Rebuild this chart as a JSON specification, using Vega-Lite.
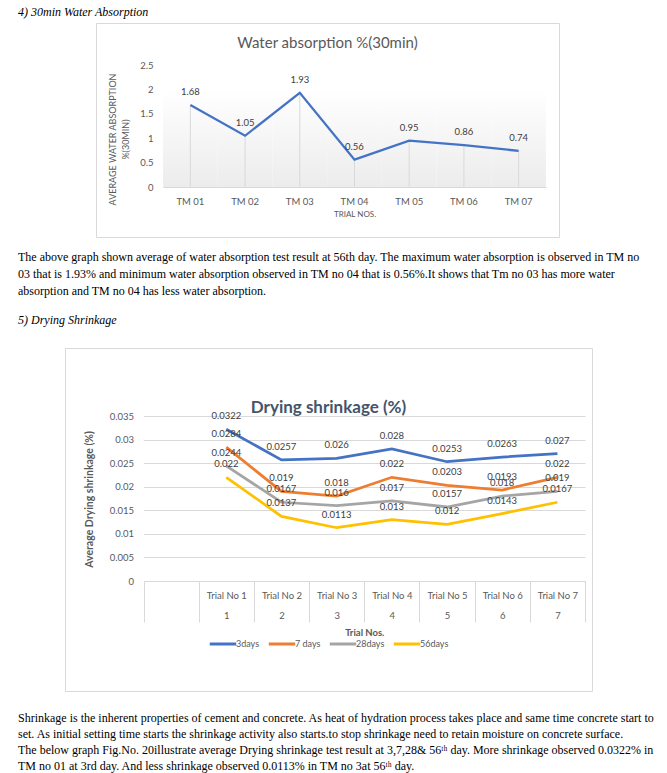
{
  "$schema": "https://vega.github.io/schema/vega-lite/v6.json",
  "padding": 0,
  "background": "#ffffff",
  "spacing": 0,
  "config": {"view": {"stroke": null}, "font": "Lato", "concat": {"spacing": 0}},
  "vconcat": [
    {
      "hconcat": [
        {"width": 18, "height": 22, "data": {"values": []}, "mark": "point", "encoding": {}},
        {
          "width": 632, "height": 22,
          "data": {"values": [{"line": 1, "text": "4)    30min Water Absorption"}]},
          "mark": {"type": "text", "align": "left", "baseline": "middle", "font": "Liberation Serif", "fontSize": 12, "fontStyle": "italic", "color": "#000000"},
          "encoding": {
            "x": {"datum": 0, "type": "quantitative", "scale": {"domain": [0, 1]}, "axis": null},
            "y": {"field": "line", "type": "quantitative", "scale": {"domain": [0, 1.8333], "reverse": true, "nice": false, "zero": false}, "axis": null},
            "text": {"field": "text"}
          }
        }
      ],
      "spacing": 0
    },
    {
      "hconcat": [
        {"width": 95, "height": 214, "data": {"values": []}, "mark": "point", "encoding": {}},
        {
          "width": 463, "height": 214,
          "view": {"stroke": "#d9d9d9", "strokeWidth": 1},
          "title": {"text": "Water absorption %(30min)", "orient": "top", "anchor": "middle", "frame": "group", "offset": -28, "fontSize": 15, "fontWeight": "normal", "color": "#595959", "font": "Lato"},
          "data": {"values": [
            {"tm": "TM 01", "v": 1.68},
            {"tm": "TM 02", "v": 1.05},
            {"tm": "TM 03", "v": 1.93},
            {"tm": "TM 04", "v": 0.56},
            {"tm": "TM 05", "v": 0.95},
            {"tm": "TM 06", "v": 0.86},
            {"tm": "TM 07", "v": 0.74}
          ]},
          "layer": [
            {
              "mark": {"type": "rect", "color": {"gradient": "linear", "x1": 0, "y1": 0, "x2": 0, "y2": 1, "stops": [{"offset": 0, "color": "#ffffff"}, {"offset": 0.2, "color": "#ffffff"}, {"offset": 1, "color": "#ececec"}]}},
              "encoding": {
                "x": {"field": "tm", "type": "nominal", "scale": {"type": "band", "range": [67, 450], "paddingInner": 0, "paddingOuter": 0},
                  "axis": {"orient": "bottom", "offset": -50, "domainColor": "#d9d9d9", "ticks": false, "labelPadding": 9, "labelFontSize": 9.5, "labelColor": "#595959", "labelAngle": 0, "title": "TRIAL NOS.", "titleFontSize": 8, "titleFontWeight": "normal", "titleColor": "#595959", "titlePadding": 5}},
                "y": {"datum": 0, "type": "quantitative", "scale": {"domain": [0, 2.5], "range": [164, 42], "nice": false, "zero": true},
                  "axis": {"orient": "left", "offset": -67, "domain": false, "ticks": false, "grid": false, "values": [0, 0.5, 1, 1.5, 2, 2.5], "labelExpr": "'' + datum.value", "labelPadding": 10, "labelFontSize": 9.5, "labelColor": "#595959", "title": ["AVERAGE WATER ABSORPTION", "%(30MIN)"], "titleFontSize": 9, "titleFontWeight": "normal", "titleColor": "#595959", "titleX": -55, "titleY": 116, "titleAngle": -90, "titleAlign": "center", "titleBaseline": "top", "titleLineHeight": 13}},
                "y2": {"datum": 2.5}
              }
            },
            {
              "mark": {"type": "rule", "color": "#d9d9d9", "strokeWidth": 1},
              "encoding": {
                "x": {"field": "tm", "type": "nominal", "bandPosition": 0.5},
                "y": {"field": "v", "type": "quantitative"},
                "y2": {"datum": 0}
              }
            },
            {
              "mark": {"type": "line", "color": "#4472c4", "strokeWidth": 2.25},
              "encoding": {
                "x": {"field": "tm", "type": "nominal", "bandPosition": 0.5},
                "y": {"field": "v", "type": "quantitative"}
              }
            },
            {
              "mark": {"type": "text", "dy": -13, "fontSize": 9.5, "color": "#404040", "baseline": "middle"},
              "encoding": {
                "x": {"field": "tm", "type": "nominal", "bandPosition": 0.5},
                "y": {"field": "v", "type": "quantitative"},
                "text": {"field": "v", "type": "nominal"}
              }
            }
          ]
        }
      ],
      "spacing": 0
    },
    {
      "hconcat": [
        {"width": 18, "height": 67, "data": {"values": []}, "mark": "point", "encoding": {}},
        {
          "width": 632, "height": 67,
          "data": {"values": [
            {"line": 1, "text": "The above graph shown average of  water absorption test result at 56th day. The maximum water absorption is observed in TM no"},
            {"line": 2, "text": "03 that is 1.93% and minimum water absorption observed in TM no 04 that is 0.56%.It shows that Tm no 03 has more water"},
            {"line": 3, "text": "absorption and TM no 04 has less water absorption."}
          ]},
          "mark": {"type": "text", "align": "left", "baseline": "middle", "font": "Liberation Serif", "fontSize": 12, "color": "#000000"},
          "encoding": {
            "x": {"datum": 0, "type": "quantitative", "scale": {"domain": [0, 1]}, "axis": null},
            "y": {"field": "line", "type": "quantitative", "scale": {"domain": [-0.1176, 3.8235], "reverse": true, "nice": false, "zero": false}, "axis": null},
            "text": {"field": "text"}
          }
        }
      ],
      "spacing": 0
    },
    {
      "hconcat": [
        {"width": 18, "height": 42, "data": {"values": []}, "mark": "point", "encoding": {}},
        {
          "width": 632, "height": 42,
          "data": {"values": [{"line": 1, "text": "5)    Drying Shrinkage"}]},
          "mark": {"type": "text", "align": "left", "baseline": "middle", "font": "Liberation Serif", "fontSize": 12, "fontStyle": "italic", "color": "#000000"},
          "encoding": {
            "x": {"datum": 0, "type": "quantitative", "scale": {"domain": [0, 1]}, "axis": null},
            "y": {"field": "line", "type": "quantitative", "scale": {"domain": [0, 2.8], "reverse": true, "nice": false, "zero": false}, "axis": null},
            "text": {"field": "text"}
          }
        }
      ],
      "spacing": 0
    },
    {
      "hconcat": [
        {"width": 64, "height": 343, "data": {"values": []}, "mark": "point", "encoding": {}},
        {
          "width": 527, "height": 343,
          "view": {"stroke": "#d9d9d9", "strokeWidth": 1},
          "title": {"text": "Drying shrinkage (%)", "orient": "top", "anchor": "middle", "frame": "group", "offset": -69, "fontSize": 17, "fontWeight": "bold", "color": "#44546a", "font": "Lato"},
          "data": {"values": [
            {"trial": "1", "series": "3days", "v": 0.0322},
            {"trial": "2", "series": "3days", "v": 0.0257},
            {"trial": "3", "series": "3days", "v": 0.026},
            {"trial": "4", "series": "3days", "v": 0.028},
            {"trial": "5", "series": "3days", "v": 0.0253},
            {"trial": "6", "series": "3days", "v": 0.0263},
            {"trial": "7", "series": "3days", "v": 0.027},
            {"trial": "1", "series": "7 days", "v": 0.0284},
            {"trial": "2", "series": "7 days", "v": 0.019},
            {"trial": "3", "series": "7 days", "v": 0.018},
            {"trial": "4", "series": "7 days", "v": 0.022},
            {"trial": "5", "series": "7 days", "v": 0.0203},
            {"trial": "6", "series": "7 days", "v": 0.0193},
            {"trial": "7", "series": "7 days", "v": 0.022},
            {"trial": "1", "series": "28days", "v": 0.0244},
            {"trial": "2", "series": "28days", "v": 0.0167},
            {"trial": "3", "series": "28days", "v": 0.016},
            {"trial": "4", "series": "28days", "v": 0.017},
            {"trial": "5", "series": "28days", "v": 0.0157},
            {"trial": "6", "series": "28days", "v": 0.018},
            {"trial": "7", "series": "28days", "v": 0.019},
            {"trial": "1", "series": "56days", "v": 0.022},
            {"trial": "2", "series": "56days", "v": 0.0137},
            {"trial": "3", "series": "56days", "v": 0.0113},
            {"trial": "4", "series": "56days", "v": 0.013},
            {"trial": "5", "series": "56days", "v": 0.012},
            {"trial": "6", "series": "56days", "v": 0.0143},
            {"trial": "7", "series": "56days", "v": 0.0167}
          ]},
          "layer": [
            {
              "mark": {"type": "line", "strokeWidth": 2.75},
              "encoding": {
                "x": {"field": "trial", "type": "nominal", "bandPosition": 0.5,
                  "scale": {"type": "band", "domain": ["0", "1", "2", "3", "4", "5", "6", "7"], "range": [78.5, 520], "paddingInner": 0, "paddingOuter": 0},
                  "axis": {"orient": "bottom", "offset": -110, "domainColor": "#d9d9d9", "ticks": true, "tickBand": "extent", "tickSize": 41, "tickColor": "#d9d9d9", "labelExpr": "isValid(datum.value) && datum.value != '0' ? ['Trial No ' + datum.value, datum.value] : ''", "labelPadding": -32, "labelLineHeight": 20, "labelFontSize": 9.5, "labelColor": "#595959", "labelAngle": 0, "title": "Trial Nos.", "titleFontSize": 9.5, "titleFontWeight": "bold", "titleColor": "#595959", "titleY": 51, "titleBaseline": "middle"}},
                "y": {"field": "v", "type": "quantitative",
                  "scale": {"domain": [0, 0.035], "range": [233, 68], "nice": false, "zero": true},
                  "axis": {"orient": "left", "offset": -78.5, "domain": false, "ticks": false, "grid": true, "gridColor": "#d9d9d9", "values": [0, 0.005, 0.01, 0.015, 0.02, 0.025, 0.03, 0.035], "labelExpr": "'' + datum.value", "labelPadding": 10, "labelFontSize": 9.5, "labelColor": "#595959", "title": "Average Drying shrinkage (%)", "titleFontSize": 10.5, "titleFontWeight": "bold", "titleColor": "#595959", "titleX": -54.5, "titleY": 151, "titleAngle": -90, "titleAlign": "center", "titleBaseline": "middle"}},
                "color": {"field": "series", "type": "nominal",
                  "scale": {"domain": ["3days", "7 days", "28days", "56days"], "range": ["#4472c4", "#ed7d31", "#a5a5a5", "#ffc000"]},
                  "legend": {"orient": "none", "legendX": 208, "legendY": 629, "direction": "horizontal", "title": null, "symbolType": "stroke", "symbolStrokeWidth": 3, "symbolSize": 700, "labelFontSize": 9, "labelColor": "#595959", "labelOffset": -2, "columnPadding": 2, "padding": 0, "symbolOffset": 0}}
              }
            },
            {
              "mark": {"type": "text", "dy": -13, "fontSize": 9.5, "color": "#404040", "baseline": "middle"},
              "encoding": {
                "x": {"field": "trial", "type": "nominal", "bandPosition": 0.5},
                "y": {"field": "v", "type": "quantitative"},
                "text": {"field": "v", "type": "nominal"}
              }
            }
          ]
        }
      ],
      "spacing": 0
    },
    {
      "hconcat": [
        {"width": 18, "height": 82, "data": {"values": []}, "mark": "point", "encoding": {}},
        {
          "width": 632, "height": 82,
          "data": {"values": [
            {"line": 1, "text": "Shrinkage is the inherent properties of cement and concrete. As heat of hydration process takes place and same time concrete start to"},
            {"line": 2, "text": "set. As initial  setting time starts the shrinkage activity also starts.to stop shrinkage need to retain moisture on concrete surface."},
            {"line": 3, "text": "The below graph Fig.No. 20illustrate average Drying shrinkage test result at 3,7,28& 56ᵗʰ day. More shrinkage observed 0.0322% in"},
            {"line": 4, "text": "TM no 01 at 3rd day. And less shrinkage observed 0.0113% in TM no 3at 56ᵗʰ  day."}
          ]},
          "mark": {"type": "text", "align": "left", "baseline": "middle", "font": "Liberation Serif", "fontSize": 12, "color": "#000000"},
          "encoding": {
            "x": {"datum": 0, "type": "quantitative", "scale": {"domain": [0, 1]}, "axis": null},
            "y": {"field": "line", "type": "quantitative", "scale": {"domain": [-0.625, 4.5], "reverse": true, "nice": false, "zero": false}, "axis": null},
            "text": {"field": "text"}
          }
        }
      ],
      "spacing": 0
    }
  ]
}
